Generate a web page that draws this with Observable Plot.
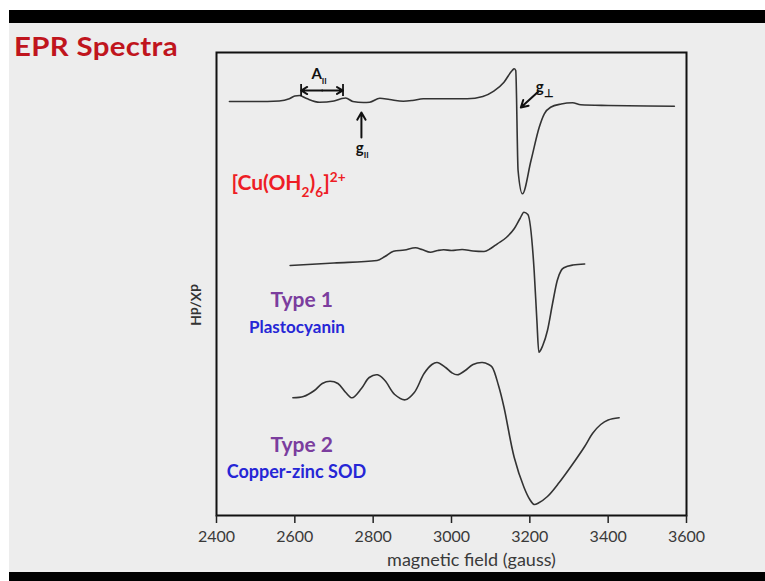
<!DOCTYPE html>
<html>
<head>
<meta charset="utf-8">
<script src="https://cdn.jsdelivr.net/npm/d3@7"></script>
<script src="https://cdn.jsdelivr.net/npm/@observablehq/plot@0.6"></script>
<style>
  html, body { margin: 0; padding: 0; background: #ffffff; }
  #page { position: relative; width: 765px; height: 581px; overflow: hidden; background: #ffffff; }
  #slide { position: absolute; left: 9px; top: 10px; width: 756px; height: 571px; background: #ededed; }
  #topbar { position: absolute; left: 9px; top: 10px; width: 756px; height: 13px; background: #000; }
  #botbar { position: absolute; left: 9px; top: 572px; width: 756px; height: 9px; background: #000; }
  #title { position: absolute; left: 14px; top: 31px; font: bold 27px Lato, sans-serif; color: #c0151d; line-height: 30px; letter-spacing: 0.3px; transform: scaleX(1.09); transform-origin: left top; }
  #chart { position: absolute; left: 0; top: 0; }
</style>
</head>
<body>
<div id="page">
  <div id="slide"></div>
  <div id="topbar"></div>
  <div id="botbar"></div>
  <div id="title">EPR Spectra</div>
  <div id="chart"></div>
</div>
<script>
// ---- data (signal in arbitrary dX/dH units) ----
const fieldTicks = [2400, 2600, 2800, 3000, 3200, 3400, 3600];

const cuField  = [2433, 2500, 2560, 2586, 2600, 2612, 2630, 2663, 2700, 2720, 2730, 2748, 2775, 2791, 2817, 2842, 2877, 2900, 2928, 2979, 3040, 3080, 3108, 3134, 3155, 3160, 3164, 3170, 3181, 3203, 3224, 3237, 3253, 3280, 3309, 3330, 3400, 3500, 3569];
const cuSignal = [414, 414, 414.5, 416.7, 419.5, 420, 417, 413.3, 414.5, 417, 417.5, 414, 413, 413.3, 417.3, 416, 414.3, 415, 416.7, 416.7, 416.7, 419, 424.3, 433.3, 445, 446.7, 445, 345, 321.7, 355, 388.3, 401.7, 408.3, 411.5, 412.7, 410.7, 410, 409.5, 409.3];

const t1Field  = [2588, 2700, 2810, 2830, 2852, 2880, 2908, 2925, 2946, 2965, 2980, 3000, 3027, 3055, 3083, 3100, 3117, 3140, 3160, 3175, 3185, 3195, 3211, 3218, 3223, 3233, 3245, 3258, 3270, 3280, 3287, 3310, 3340];
const t1Signal = [250, 252.5, 255, 259, 264.3, 265.5, 267.7, 266, 263.3, 265, 265.7, 265, 266, 264.5, 264, 267, 271.7, 278, 286.7, 297, 303.3, 301, 245, 195, 163.3, 170, 185, 212, 235, 245, 247.7, 250.5, 251.5];

const t2Field  = [2595, 2622, 2650, 2670, 2690, 2710, 2730, 2746, 2770, 2790, 2811, 2830, 2855, 2882, 2905, 2930, 2950, 2963, 2985, 3000, 3015, 3035, 3055, 3079, 3095, 3104, 3120, 3134, 3160, 3185, 3200, 3211, 3222, 3245, 3275, 3305, 3340, 3360, 3381, 3400, 3428];
const t2Signal = [117.7, 119, 125, 132, 134.3, 132, 123, 117.7, 127, 138, 140.7, 135, 121, 115.7, 123, 142, 151, 153, 148, 143, 140.7, 145, 151, 153, 151, 148.3, 130, 108.3, 58.3, 28.3, 16, 11, 12.5, 19, 33, 49, 69, 82, 91, 95.5, 97.7];

// annotation labels (field, signal) in data units
const labelText   = ["[Cu(OH2)6]2+", "Type 1", "Plastocyanin", "Type 2", "Copper-zinc SOD"];
const labelField  = [2438, 2538, 2483, 2538, 2426];
const labelSignal = [332, 215, 188, 70, 43];
const labelColor  = ["#ee1d25", "#7b3d9e", "#2626d6", "#7b3d9e", "#2626d6"];
const labelSize   = [21, 21, 17, 21, 18];

const markText   = ["A_par", "g_par", "g_perp"];
const markField  = [2662, 2772, 3238];
const markSignal = [441, 367, 428];
const markAnchor = ["middle", "middle", "start"];

// arrows: [x1, y1, x2, y2]
const arrowX1 = [2670, 2670, 2770, 3222];
const arrowY1 = [425, 425, 378, 424];
const arrowX2 = [2616, 2723, 2770, 3177];
const arrowY2 = [425, 425, 403, 408];
const barField = [2616, 2723];

// ---- build ----
const cuRows = cuField.map((f, i) => ({field: f, signal: cuSignal[i]}));
const t1Rows = t1Field.map((f, i) => ({field: f, signal: t1Signal[i]}));
const t2Rows = t2Field.map((f, i) => ({field: f, signal: t2Signal[i]}));
const labels = labelText.map((t, i) => ({t, x: labelField[i], y: labelSignal[i], c: labelColor[i], fs: labelSize[i]}));
const marksT = markText.map((t, i) => ({t, x: markField[i], y: markSignal[i], a: markAnchor[i]}));
const arrows = arrowX1.map((x1, i) => ({x1, y1: arrowY1[i], x2: arrowX2[i], y2: arrowY2[i]}));

const font = "Lato, 'Open Sans', sans-serif";
const lineStyle = {x: "field", y: "signal", stroke: "#333", strokeWidth: 1.6};

const chart = Plot.plot({
  width: 765,
  height: 581,
  marginLeft: 216,
  marginRight: 79,
  marginTop: 52,
  marginBottom: 66,
  style: {background: "transparent", fontFamily: font, color: "#333"},
  x: {domain: [2400, 3600], ticks: fieldTicks, tickFormat: d => String(d)},
  y: {domain: [0, 463], axis: null},
  marks: [
    Plot.frame({stroke: "#111", strokeWidth: 2}),
    Plot.axisX({ticks: fieldTicks, tickFormat: d => String(d), tickSize: 8, tickPadding: 7, fontSize: 16, stroke: "#222", strokeWidth: 1.5, label: null, fill: "#3a3a3a"}),
    Plot.text(["magnetic field (gauss)"], {frameAnchor: "bottom", dx: 20, dy: 50, fontSize: 18, fill: "#3a3a3a", fontFamily: font}),
    Plot.text(["dX/dH"], {frameAnchor: "left", dx: -21, rotate: 90, fontSize: 14, fill: "#333", fontWeight: "bold", fontFamily: font}),
    Plot.line(cuRows, {...lineStyle, curve: "monotone-x"}),
    Plot.line(t1Rows, {...lineStyle, curve: "monotone-x"}),
    Plot.line(t2Rows, {...lineStyle, curve: "catmull-rom"}),
    Plot.arrow(arrows, {x1: "x1", y1: "y1", x2: "x2", y2: "y2", stroke: "#111", strokeWidth: 2, headLength: 8}),
    Plot.ruleX(barField, {x: d => d, y1: 419, y2: 431, stroke: "#111", strokeWidth: 1.8}),
    ...labels.map(d => Plot.text([d], {x: "x", y: "y", text: "t", fill: d.c, fontSize: d.fs, fontWeight: "bold", textAnchor: "start", fontFamily: font})),
    Plot.text(marksT, {x: "x", y: "y", text: "t", textAnchor: d => d.a, fontSize: 15, fontWeight: "bold", fill: "#111", fontFamily: font})
  ]
});

// rich text (subscripts / superscripts)
const svgns = "http://www.w3.org/2000/svg";
function rich(el, parts, base) {
  el.textContent = "";
  let shift = 0;
  for (const p of parts) {
    const target = p.sub ? base * 0.3 : p.sup ? -base * 0.4 : 0;
    const ts = document.createElementNS(svgns, "tspan");
    ts.setAttribute("dy", (target - shift) + "px");
    shift = target;
    if (p.sub || p.sup) ts.setAttribute("font-size", (base * (p.size || 0.65)) + "px");
    ts.textContent = p.t;
    el.appendChild(ts);
  }
}
const richMap = {
  "[Cu(OH2)6]2+": [[{t: "[Cu(OH"}, {t: "2", sub: true}, {t: ")"}, {t: "6", sub: true}, {t: "]"}, {t: "2+", sup: true}], 21],
  "A_par": [[{t: "A"}, {t: "II", sub: true, size: 0.55}], 15],
  "g_par": [[{t: "g"}, {t: "II", sub: true, size: 0.55}], 15],
  "g_perp": [[{t: "g"}, {t: "⊥", sub: true, size: 0.75}], 15]
};
d3.select(chart).selectAll("text").each(function() {
  const r = richMap[this.textContent];
  if (r) rich(this, r[0], r[1]);
});

document.getElementById("chart").appendChild(chart);
</script>
</body>
</html>
